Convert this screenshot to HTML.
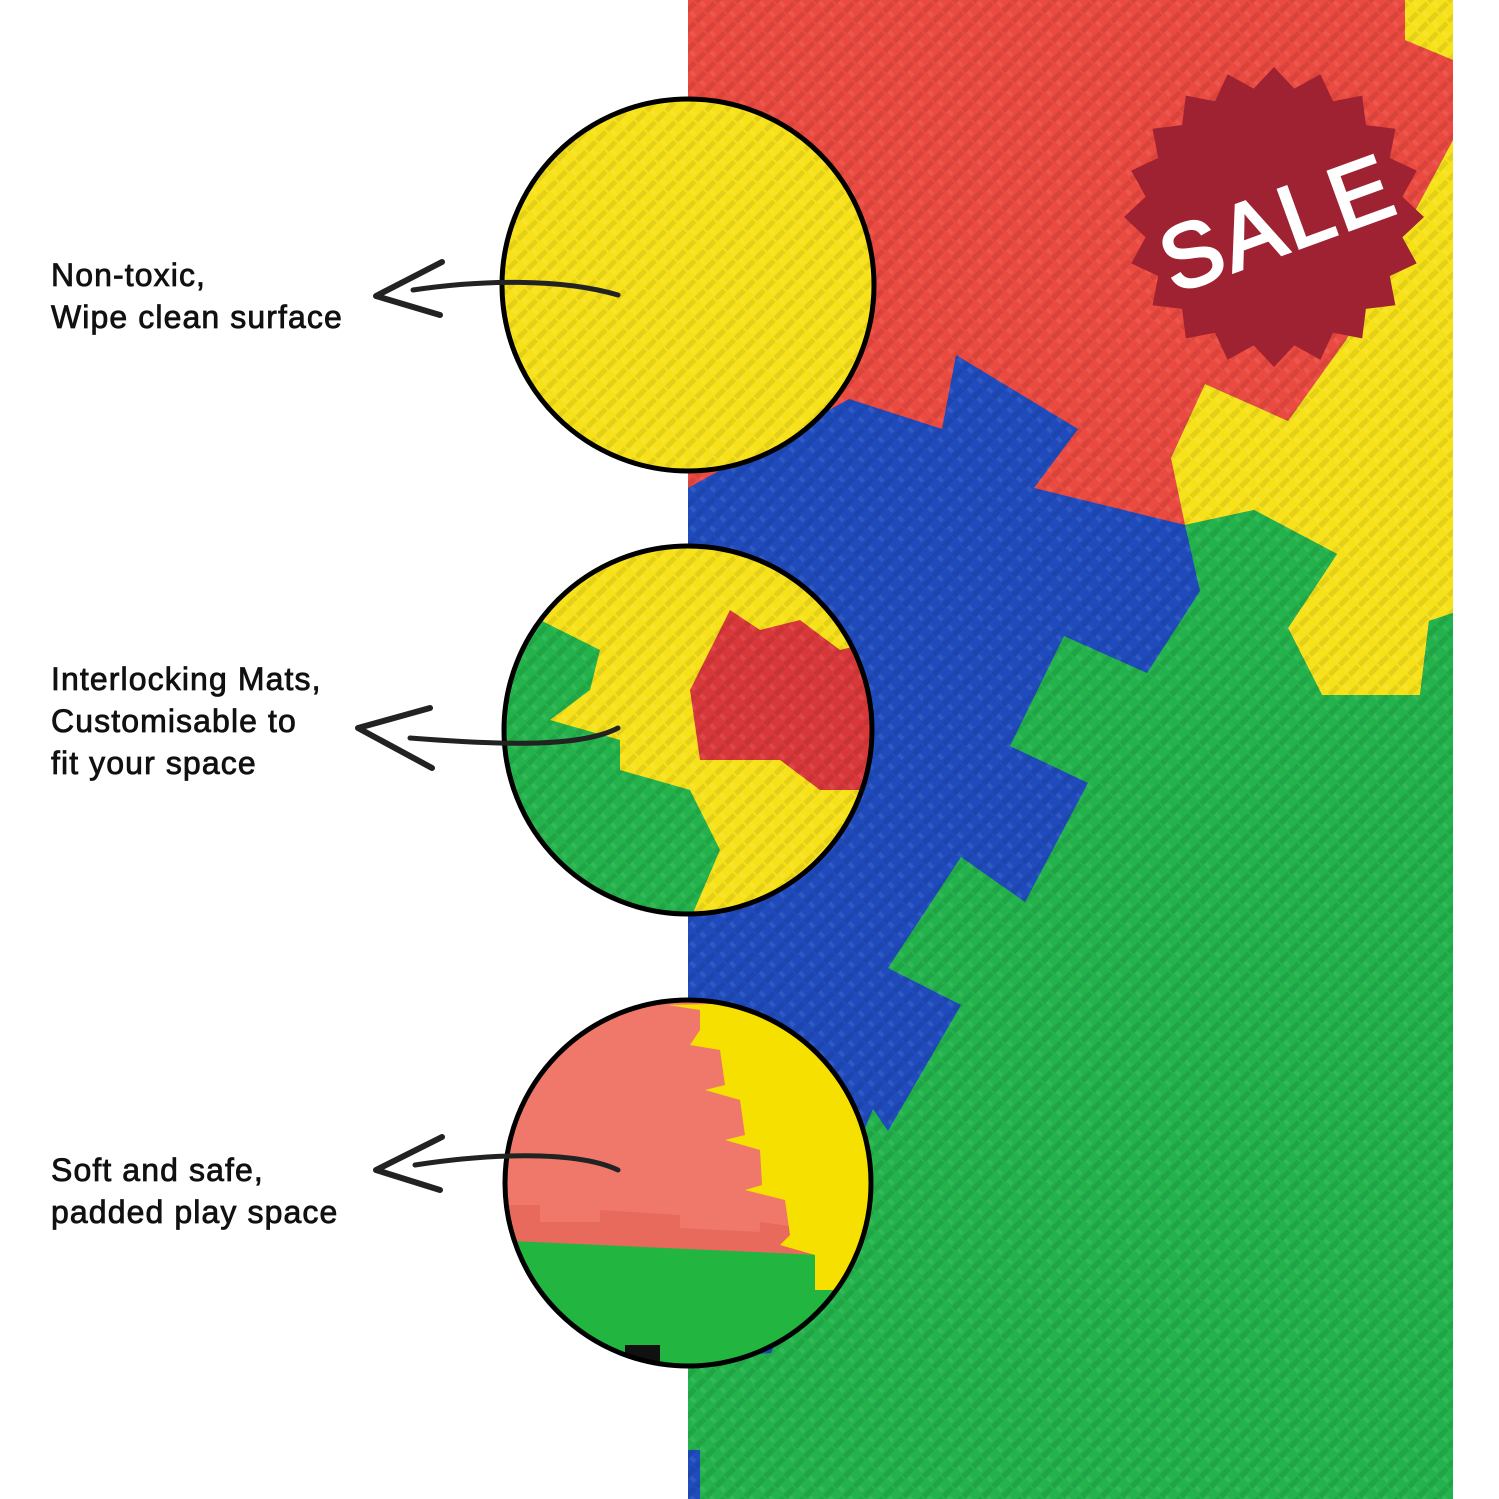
<!DOCTYPE html>
<html><head><meta charset="utf-8"><style>
html,body{margin:0;padding:0;background:#fff;}
svg{display:block}
.t{font-family:"Liberation Sans",sans-serif;font-size:32px;letter-spacing:1.1px;fill:#111;stroke:#111;stroke-width:0.8px}
</style></head><body>
<svg width="1499" height="1499" viewBox="0 0 1499 1499" xmlns="http://www.w3.org/2000/svg">
<defs>
<pattern id="tx" width="14" height="14" patternUnits="userSpaceOnUse" patternTransform="rotate(45)">
<rect x="1" y="1" width="5" height="12" fill="#000" opacity="0.08"/>
<rect x="7" y="8" width="6" height="4" fill="#fff" opacity="0.08"/>
</pattern>
<clipPath id="c1"><circle cx="688" cy="285" r="186"/></clipPath>
<clipPath id="c2"><circle cx="688" cy="730" r="184"/></clipPath>
<clipPath id="c3"><circle cx="688" cy="1183" r="183"/></clipPath>
</defs>
<rect x="688" y="0" width="765" height="1499" fill="#1f4bbd"/>
<polygon fill="#ea4a40" points="688,0 1453,0 1453,140 1346,340 1288,421 1205,384 1171,458 1185,525 1034,488 1078,429 956,355 942,429 849,399 688,488"/>
<polygon fill="#f7e21a" points="1405,0 1453,0 1453,60 1405,40"/>
<polygon fill="#f7e21a" points="1453,140 1453,613 1429,621 1420,695 1322,695 1288,628 1337,554 1254,510 1185,525 1171,458 1205,384 1288,421 1346,340"/>
<polygon fill="#23b24b" points="1185,525 1254,510 1337,554 1288,628 1322,695 1420,695 1429,621 1453,613 1453,1499 700,1499 700,1450 688,1450 688,1360 771,1353 873,1109 888,1131 961,1005 888,968 961,857 1025,902 1088,783 1010,746 1064,636 1147,673 1200,591"/>
<rect x="688" y="0" width="765" height="1499" fill="url(#tx)"/>
<polygon id="star" fill="#9e2231" points=""/>
<text x="1278" y="255" text-anchor="middle" transform="rotate(-20 1275 225)" font-family="Liberation Sans,sans-serif" font-size="90" fill="#fff" stroke="#fff" stroke-width="3" letter-spacing="3">SALE</text>
<g clip-path="url(#c1)"><rect x="490" y="90" width="400" height="400" fill="#f7e21a"/><rect x="490" y="90" width="400" height="400" fill="url(#tx)"/></g>
<circle cx="688" cy="285" r="186" fill="none" stroke="#000" stroke-width="5"/>
<g clip-path="url(#c2)">
<rect x="490" y="540" width="400" height="400" fill="#f7e21a"/>
<polygon fill="#d9383a" points="690,690 730,610 760,630 800,620 840,650 880,640 880,790 820,790 780,760 700,760"/>
<polygon fill="#23b24b" points="490,620 540,620 600,650 590,690 550,720 620,740 620,770 690,790 720,850 690,920 490,920"/>
<polygon fill="#23b24b" points="580,880 620,870 640,920 580,920"/>
<rect x="490" y="540" width="400" height="400" fill="url(#tx)"/>
</g>
<circle cx="688" cy="730" r="184" fill="none" stroke="#000" stroke-width="5"/>
<g clip-path="url(#c3)">
<rect x="490" y="990" width="400" height="400" fill="#f0786a"/>
<polygon fill="#22b540" points="490,1225 600,1230 820,1250 880,1300 880,1390 490,1390"/>
<polygon fill="#e86a5c" points="490,1205 540,1205 540,1222 600,1222 600,1210 680,1215 680,1228 760,1232 760,1222 820,1230 820,1255 490,1240"/>
<polygon fill="#f5e000" points="668,1005 700,1010 700,1030 690,1045 720,1050 725,1085 705,1090 740,1100 745,1135 725,1140 760,1150 762,1185 745,1190 785,1200 790,1235 780,1245 815,1255 815,1290 870,1290 880,1000"/>
<polygon fill="#111" points="625,1345 660,1345 660,1380 625,1380"/>
</g>
<circle cx="688" cy="1183" r="183" fill="none" stroke="#000" stroke-width="5"/>
<text class="t" x="51" y="286">Non-toxic,</text>
<text class="t" x="51" y="328">Wipe clean surface</text>
<text class="t" x="51" y="690">Interlocking Mats,</text>
<text class="t" x="51" y="732">Customisable to</text>
<text class="t" x="51" y="774">fit your space</text>
<text class="t" x="51" y="1181">Soft and safe,</text>
<text class="t" x="51" y="1223">padded play space</text>
<g fill="none" stroke="#222" stroke-linecap="round" stroke-linejoin="round">
<path d="M618,295 C560,278 480,280 413,290" stroke-width="5"/>
<path d="M442,262 L376,296 L440,315" stroke-width="6"/>
<path d="M618,728 C580,748 500,745 410,738" stroke-width="5"/>
<path d="M430,708 L358,728 L432,768" stroke-width="6"/>
<path d="M618,1170 C580,1152 500,1152 415,1165" stroke-width="5"/>
<path d="M442,1137 L376,1170 L440,1190" stroke-width="6"/>
</g>
</svg>
<script>
var p=[],cx=1274,cy=217,n=20;
for(var i=0;i<2*n;i++){var r=i%2?130:150;var a=Math.PI*i/n-Math.PI/2;p.push((cx+r*Math.cos(a)).toFixed(1)+","+(cy+r*Math.sin(a)).toFixed(1));}
document.getElementById("star").setAttribute("points",p.join(" "));
</script>
</body></html>
